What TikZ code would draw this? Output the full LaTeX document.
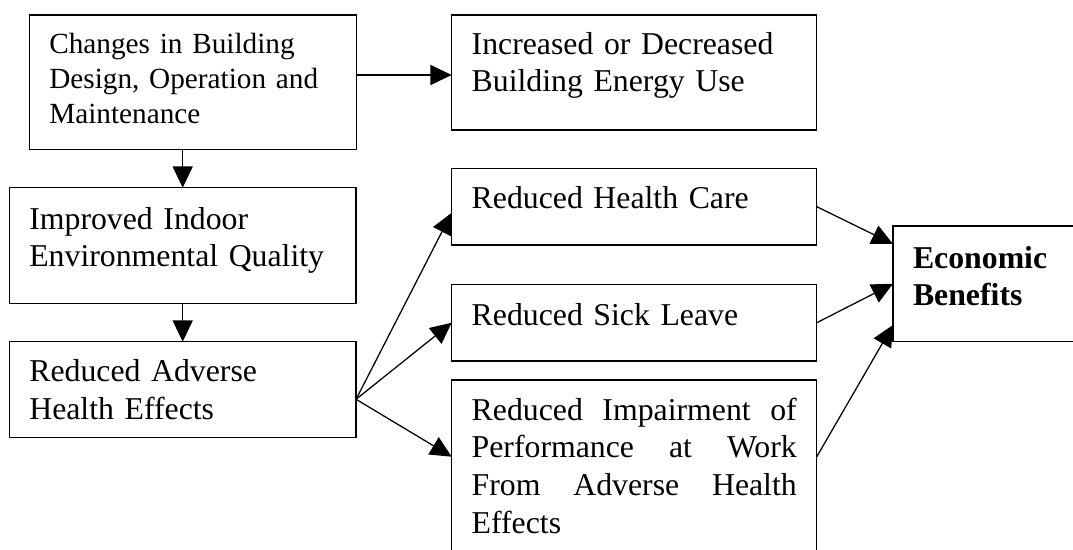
\documentclass[tikz,border=0pt]{standalone}
\usepackage{fontspec}
\setmainfont{Liberation Serif}
\usetikzlibrary{arrows.meta,calc}

\begin{document}
\begin{tikzpicture}[x=0.025cm,y=-0.025cm,
  box/.style={draw,line width=0.9pt,anchor=north west,outer sep=0pt,align=left,
    inner xsep=0.5cm,inner ysep=0pt,font={\fontsize{22.6}{26.8}\selectfont}},
  arr/.style={line width=0.9pt,-{Triangle[length=0.53cm,width=0.5cm]}}]
  \useasboundingbox (0,0) rectangle (1073,550);

  \node[box,text width=7.17cm,text height=0.96cm,text depth=2.4cm,
    font={\fontsize{20.8}{24.9}\selectfont}] (changes) at (29.3,15)
    {Changes in Building\\Design, Operation and\\Maintenance};
  \node[box,text width=8.125cm,text height=0.975cm,text depth=1.9cm] (energy) at (451.7,15)
    {Increased or Decreased\\Building Energy Use};
  \node[box,text width=7.667cm,text height=1.04cm,text depth=1.85cm] (ieq) at (9.3,187.7)
    {Improved Indoor\\Environmental Quality};
  \node[box,text width=7.667cm,text height=1cm,text depth=1.4cm] (health) at (9.3,341.7)
    {Reduced Adverse\\Health Effects};
  \node[box,text width=8.125cm,text height=1cm,text depth=0.92cm] (care) at (451.7,168.3)
    {Reduced Health Care};
  \node[box,text width=8.125cm,text height=1.02cm,text depth=0.9cm] (sick) at (451.7,284.3)
    {Reduced Sick Leave};
  \node[box,text width=8.125cm,text height=1cm,text depth=4cm] (perf) at (451.7,380)
    {Reduced\hfill Impairment\hfill of\\Performance\hfill at\hfill Work\\From\hfill Adverse\hfill Health\\Effects};
  \node[box,text width=5cm,text height=1.05cm,text depth=1.84cm] (econ) at (893,226)
    {\bfseries Economic\\Benefits};

  \draw[arr] ($(changes.north east)+(0,60)$) coordinate (p) -- (p -| energy.west);
  \draw[arr] (ieq.north |- changes.south) -- (ieq.north);
  \draw[arr] (ieq.south) -- (health.north);

  \coordinate (fan) at ($(health.north east)+(0,57.6)$);
  \draw[arr] (fan) -- ($(care.north west)+(0,44.5)$);
  \draw[arr] (fan) -- (sick.west);
  \draw[arr] (fan) -- ($(perf.north west)+(0,76.7)$);

  \draw[arr] (care.east) -- ($(econ.north west)+(0,18)$);
  \draw[arr] (sick.east) -- (econ.west);
  \draw[arr] ($(perf.north east)+(0,76.7)$) -- ($(econ.north west)+(0,99)$);
\end{tikzpicture}
\end{document}
